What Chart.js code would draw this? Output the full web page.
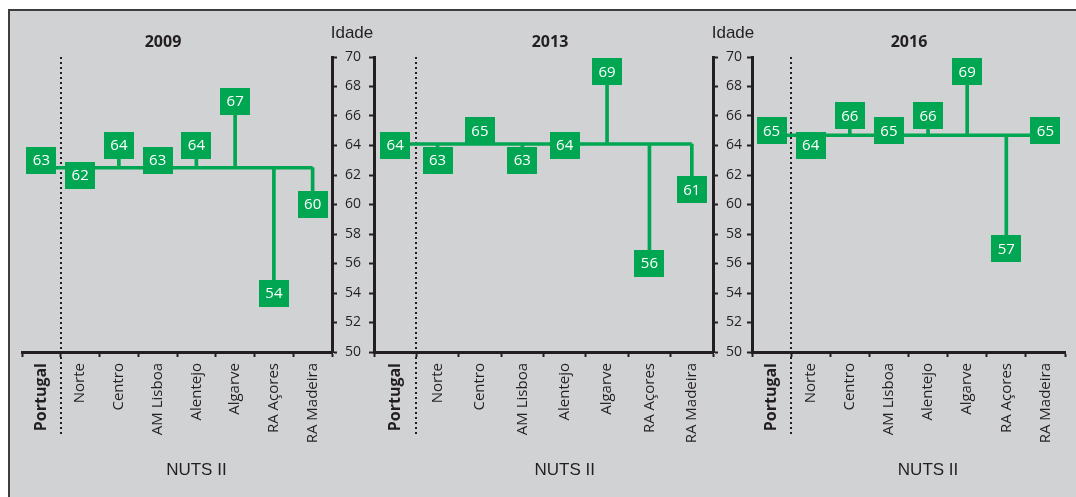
<!DOCTYPE html>
<html>
<head>
<meta charset="utf-8">
<script src="https://cdn.jsdelivr.net/npm/chart.js@4.4.0/dist/chart.umd.min.js"></script>
<style>
  html, body { margin: 0; padding: 0; background: #ffffff; overflow: hidden; }
  #frame {
    position: absolute; left: 8px; top: 9px; width: 1080px; height: 500px;
    background: #d1d2d4;
    border-top: 2px solid #3d3d3d;
    border-left: 2px solid #3d3d3d;
  }
  canvas { position: absolute; left: 0; top: 0; }
</style>
</head>
<body>
<div id="frame"></div>
<canvas id="c2009" width="1076" height="497"></canvas>
<canvas id="c2013" width="1076" height="497"></canvas>
<canvas id="c2016" width="1076" height="497"></canvas>
<script>
  // Categories and values
  const categories = ['Portugal', 'Norte', 'Centro', 'AM Lisboa', 'Alentejo', 'Algarve', 'RA Açores', 'RA Madeira'];
  const years = ['2009', '2013', '2016'];
  const values2009 = [63, 62, 64, 63, 64, 67, 54, 60];
  const values2013 = [64, 63, 65, 63, 64, 69, 56, 61];
  const values2016 = [65, 64, 66, 65, 66, 69, 57, 65];
  // Portugal reference line (unrounded value)
  const portugalLine = [62.5, 64.1, 64.7];
  const yMin = 50, yMax = 70, yStep = 2;
  const xTitle = 'NUTS II';
  const yTitle = 'Idade';

  const green = '#00a651';
  const ink = '#231f20';
  const W = 1076, H = 497;

  Chart.defaults.font.family = "'Open Sans', sans-serif";
  Chart.defaults.color = ink;

  // panel layout: plot area left/right edges, which y axes get drawn
  const panels = [
    { id: 'c2009', values: values2009, left: 22, right: 332, yLeft: false, yRight: true, titleX: 163 },
    { id: 'c2013', values: values2013, left: 374, right: 713, yLeft: true, yRight: true, titleX: 550 },
    { id: 'c2016', values: values2016, left: 752, right: 1065, yLeft: true, yRight: false, titleX: 909 }
  ];
  const plotTop = 57, plotBottom = 352;

  const decor = {
    id: 'decor',
    beforeDatasetsDraw(chart, args, opts) {
      const ctx = chart.ctx;
      const x = chart.scales.x;
      const sx = Math.round((x.getPixelForValue(0) + x.getPixelForValue(1)) / 2);
      ctx.save();
      ctx.strokeStyle = ink;
      ctx.lineWidth = 2;
      ctx.setLineDash([2, 3]);
      ctx.beginPath();
      ctx.moveTo(sx, chart.chartArea.top);
      ctx.lineTo(sx, 434);
      ctx.stroke();
      ctx.restore();
    },
    afterDatasetsDraw(chart, args, opts) {
      const ctx = chart.ctx;
      const meta = chart.getDatasetMeta(2);
      const vals = chart.data.datasets[2].data;
      ctx.save();
      ctx.font = "15px 'Open Sans', sans-serif";
      ctx.textAlign = 'center';
      ctx.textBaseline = 'middle';
      meta.data.forEach((pt, i) => {
        ctx.fillStyle = green;
        ctx.fillRect(Math.round(pt.x - 15), Math.round(pt.y - 13.5), 30, 27);
        ctx.fillStyle = '#ffffff';
        ctx.fillText(String(Math.round(vals[i])), pt.x, pt.y + 0.5);
      });
      ctx.restore();
    },
    afterDraw(chart, args, opts) {
      const ctx = chart.ctx;
      const x = chart.scales.x;
      const area = chart.chartArea;
      ctx.save();
      ctx.fillStyle = ink;
      ctx.textAlign = 'center';
      ctx.textBaseline = 'middle';
      // year title
      ctx.font = "bold 16px 'Open Sans', sans-serif";
      ctx.fillText(opts.title, opts.titleX, 42);
      // NUTS II under the regions
      const regionsLeft = (x.getPixelForValue(0) + x.getPixelForValue(1)) / 2;
      ctx.font = "17px 'Liberation Sans', Arial, sans-serif";
      ctx.fillText(xTitle, (regionsLeft + area.right) / 2, 470);
      // Idade above the labelled axis
      const yr = chart.scales.yR;
      if (yr && opts.showIdade) {
        ctx.fillText(yTitle, (yr.left + yr.right) / 2, 33);
      }
      ctx.restore();
    }
  };

  function yAxis(position, showLabels, width) {
    return {
      type: 'linear',
      position: position,
      min: yMin,
      max: yMax,
      ticks: {
        stepSize: yStep,
        display: showLabels,
        padding: 8,
        color: ink,
        font: { size: 14 }
      },
      grid: {
        display: true,
        drawOnChartArea: false,
        drawTicks: true,
        tickLength: 5,
        tickWidth: 2,
        tickColor: ink
      },
      border: { display: true, width: 3, color: ink },
      afterFit(scale) { scale.width = width; }
    };
  }

  panels.forEach((p, k) => {
    const pt = portugalLine[k];
    const scales = {
      x: {
        type: 'category',
        offset: true,
        grid: {
          display: true,
          offset: true,
          drawOnChartArea: false,
          drawTicks: true,
          tickLength: 5,
          tickWidth: 2,
          tickColor: ink
        },
        border: { display: true, width: 3, color: ink },
        ticks: {
          autoSkip: false,
          minRotation: 90,
          maxRotation: 90,
          padding: 6,
          color: ink,
          font: (c) => c.index === 0 ? { size: 16, weight: 'bold' } : { size: 15 }
        },
        afterFit(scale) { scale.height = H - plotBottom; }
      }
    };
    const leftW = 10;
    const rightW = 40;
    if (p.yLeft) scales.yL = yAxis('left', false, leftW);
    if (p.yRight) scales.yR = yAxis('right', true, rightW);
    const mainY = p.yLeft ? 'yL' : 'yR';

    new Chart(document.getElementById(p.id), {
      type: 'bar',
      data: {
        labels: categories,
        datasets: [
          {
            type: 'line',
            label: 'Portugal',
            data: [{ x: categories[0], y: pt }, { x: categories[categories.length - 1], y: pt }],
            borderColor: green,
            borderWidth: 3.5,
            pointRadius: 0,
            yAxisID: mainY,
            order: 2
          },
          {
            type: 'bar',
            label: 'stems',
            data: p.values.map((v, i) => i === 0 ? null : [pt, v]),
            backgroundColor: green,
            borderWidth: 0,
            barThickness: 3,
            yAxisID: mainY,
            order: 1
          },
          {
            type: 'line',
            label: years[k],
            data: p.values,
            showLine: false,
            pointRadius: 0,
            yAxisID: mainY,
            order: 0
          }
        ]
      },
      options: {
        responsive: false,
        animation: false,
        events: [],
        layout: {
          padding: {
            left: p.left - (p.yLeft ? leftW : 0),
            right: W - p.right - (p.yRight ? rightW : 0),
            top: plotTop,
            bottom: 0
          }
        },
        scales: scales,
        plugins: {
          legend: { display: false },
          tooltip: { enabled: false },
          title: { display: false },
          decor: { title: years[k], titleX: p.titleX, showIdade: p.yRight }
        }
      },
      plugins: [decor]
    });
  });
</script>
</body>
</html>
